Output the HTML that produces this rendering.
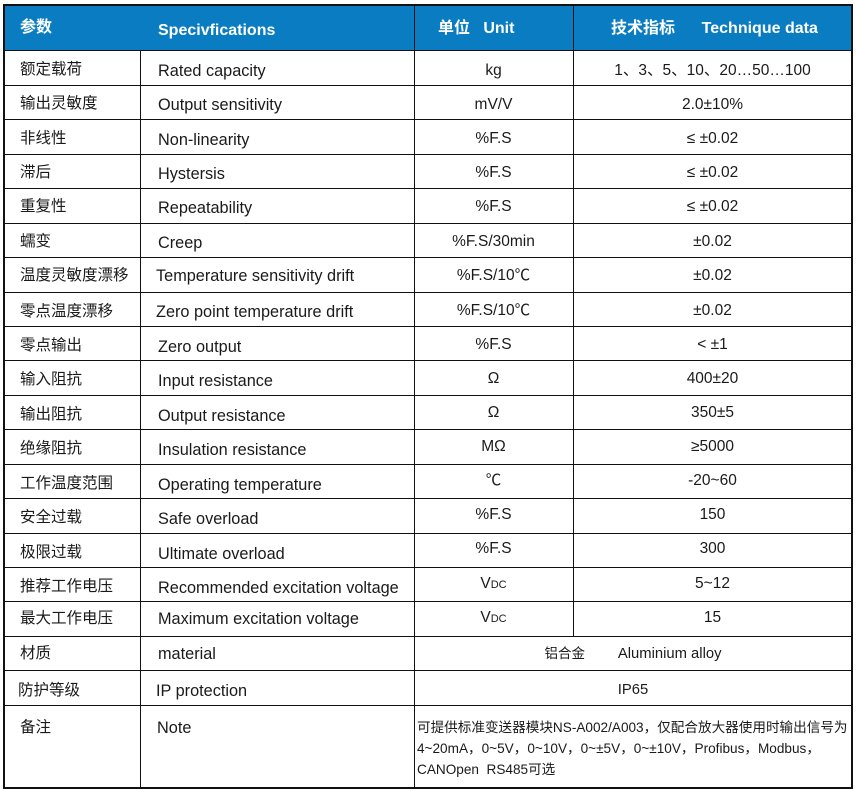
<!DOCTYPE html>
<html><head><meta charset="utf-8"><style>
body{margin:0;width:856px;height:789px;background:#fff;position:relative;overflow:hidden;font-family:"Liberation Sans","Noto Sans CJK SC",sans-serif;color:#1a1a1a}
.h{position:absolute;left:3px;top:4px;width:849px;height:46px;background:#0a7dc2}
.l{position:absolute;background:#111}
.t{position:absolute;font-size:15.5px;white-space:nowrap;line-height:20px}
.e{font-size:16.3px}
.w{color:#fff;font-weight:bold;font-size:16px}
.c3{left:414px;width:159px;text-align:center}
.c4{left:573px;width:279px;text-align:center}
.c34{left:414px;width:438px;text-align:center}
</style></head><body>
<div class="h"></div>
<div class="l" style="left:3px;top:4px;width:850px;height:2px"></div>
<div class="l" style="left:3px;top:787px;width:850px;height:2px"></div>
<div class="l" style="left:3px;top:4px;width:2px;height:785px"></div>
<div class="l" style="left:851px;top:4px;width:2px;height:785px"></div>
<div class="l" style="left:140px;top:50px;width:1px;height:738px"></div>
<div class="l" style="left:414px;top:4px;width:1px;height:784px"></div>
<div class="l" style="left:573px;top:4px;width:1px;height:632px"></div>
<div class="l" style="left:3px;top:50px;width:850px;height:1px"></div>
<div class="l" style="left:3px;top:85px;width:850px;height:1px"></div>
<div class="l" style="left:3px;top:119px;width:850px;height:1px"></div>
<div class="l" style="left:3px;top:154px;width:850px;height:1px"></div>
<div class="l" style="left:3px;top:188px;width:850px;height:1px"></div>
<div class="l" style="left:3px;top:223px;width:850px;height:1px"></div>
<div class="l" style="left:3px;top:257px;width:850px;height:1px"></div>
<div class="l" style="left:3px;top:292px;width:850px;height:1px"></div>
<div class="l" style="left:3px;top:326px;width:850px;height:1px"></div>
<div class="l" style="left:3px;top:360px;width:850px;height:1px"></div>
<div class="l" style="left:3px;top:395px;width:850px;height:1px"></div>
<div class="l" style="left:3px;top:429px;width:850px;height:1px"></div>
<div class="l" style="left:3px;top:464px;width:850px;height:1px"></div>
<div class="l" style="left:3px;top:498px;width:850px;height:1px"></div>
<div class="l" style="left:3px;top:533px;width:850px;height:1px"></div>
<div class="l" style="left:3px;top:567px;width:850px;height:1px"></div>
<div class="l" style="left:3px;top:601px;width:850px;height:1px"></div>
<div class="l" style="left:3px;top:636px;width:850px;height:1px"></div>
<div class="l" style="left:3px;top:670px;width:850px;height:1px"></div>
<div class="l" style="left:3px;top:705px;width:850px;height:1px"></div>
<div class="t w" style="left:20px;top:18px">参数</div>
<div class="t w" style="left:158px;top:21px">Specivfications</div>
<div class="t w" style="left:438px;top:19px">单位&nbsp;&nbsp;&nbsp;Unit</div>
<div class="t w" style="left:611px;top:19px">技术指标&nbsp;&nbsp;&nbsp;&nbsp;&nbsp;&nbsp;Technique data</div>
<div class="t" style="left:20px;top:60px">额定载荷</div><div class="t e" style="left:158px;top:61px">Rated capacity</div><div class="t c3" style="top:61px">kg</div><div class="t c4" style="top:61px">1、3、5、10、20…50…100</div>
<div class="t" style="left:20px;top:94px">输出灵敏度</div><div class="t e" style="left:158px;top:95px">Output sensitivity</div><div class="t c3" style="top:95px">mV/V</div><div class="t c4" style="top:95px">2.0±10%</div>
<div class="t" style="left:20px;top:129px">非线性</div><div class="t e" style="left:158px;top:130px">Non-linearity</div><div class="t c3" style="top:129px">%F.S</div><div class="t c4" style="top:129px">≤ ±0.02</div>
<div class="t" style="left:20px;top:163px">滞后</div><div class="t e" style="left:158px;top:164px">Hystersis</div><div class="t c3" style="top:163px">%F.S</div><div class="t c4" style="top:163px">≤ ±0.02</div>
<div class="t" style="left:20px;top:197px">重复性</div><div class="t e" style="left:158px;top:198px">Repeatability</div><div class="t c3" style="top:197px">%F.S</div><div class="t c4" style="top:197px">≤ ±0.02</div>
<div class="t" style="left:20px;top:232px">蠕变</div><div class="t e" style="left:158px;top:233px">Creep</div><div class="t c3" style="top:232px">%F.S/30min</div><div class="t c4" style="top:232px">±0.02</div>
<div class="t" style="left:20px;top:266px">温度灵敏度漂移</div><div class="t e" style="left:156px;top:266px">Temperature sensitivity drift</div><div class="t c3" style="top:266px">%F.S/10℃</div><div class="t c4" style="top:266px">±0.02</div>
<div class="t" style="left:20px;top:302px">零点温度漂移</div><div class="t e" style="left:156px;top:302px">Zero point temperature drift</div><div class="t c3" style="top:301px">%F.S/10℃</div><div class="t c4" style="top:301px">±0.02</div>
<div class="t" style="left:20px;top:336px">零点输出</div><div class="t e" style="left:158px;top:337px">Zero output</div><div class="t c3" style="top:335px">%F.S</div><div class="t c4" style="top:335px">&lt; ±1</div>
<div class="t" style="left:20px;top:370px">输入阻抗</div><div class="t e" style="left:158px;top:371px">Input resistance</div><div class="t c3" style="top:369px">Ω</div><div class="t c4" style="top:369px">400±20</div>
<div class="t" style="left:20px;top:405px">输出阻抗</div><div class="t e" style="left:158px;top:406px">Output resistance</div><div class="t c3" style="top:403px">Ω</div><div class="t c4" style="top:403px">350±5</div>
<div class="t" style="left:20px;top:439px">绝缘阻抗</div><div class="t e" style="left:158px;top:440px">Insulation resistance</div><div class="t c3" style="top:437px">MΩ</div><div class="t c4" style="top:437px">≥5000</div>
<div class="t" style="left:20px;top:474px">工作温度范围</div><div class="t e" style="left:158px;top:475px">Operating temperature</div><div class="t c3" style="top:471px">℃</div><div class="t c4" style="top:471px">-20~60</div>
<div class="t" style="left:20px;top:508px">安全过载</div><div class="t e" style="left:158px;top:509px">Safe overload</div><div class="t c3" style="top:505px">%F.S</div><div class="t c4" style="top:505px">150</div>
<div class="t" style="left:20px;top:543px">极限过载</div><div class="t e" style="left:158px;top:544px">Ultimate overload</div><div class="t c3" style="top:539px">%F.S</div><div class="t c4" style="top:539px">300</div>
<div class="t" style="left:20px;top:577px">推荐工作电压</div><div class="t e" style="left:158px;top:578px">Recommended excitation voltage</div><div class="t c3" style="top:574px">V<span style="font-size:11px">DC</span></div><div class="t c4" style="top:574px">5~12</div>
<div class="t" style="left:20px;top:609px">最大工作电压</div><div class="t e" style="left:158px;top:609px">Maximum excitation voltage</div><div class="t c3" style="top:608px">V<span style="font-size:11px">DC</span></div><div class="t c4" style="top:608px">15</div>
<div class="t" style="left:20px;top:644px">材质</div><div class="t e" style="left:158px;top:644px">material</div><div class="t c34" style="top:644px;font-size:14.8px"><span style="font-size:13.5px">铝合金</span>&nbsp;&nbsp;&nbsp;&nbsp;&nbsp;&nbsp;&nbsp;&nbsp;Aluminium alloy</div>
<div class="t" style="left:18px;top:681px">防护等级</div><div class="t e" style="left:156px;top:681px">IP protection</div><div class="t c34" style="top:680px;font-size:14.8px">IP65</div>
<div class="t" style="left:20px;top:718px">备注</div><div class="t e" style="left:157px;top:718px">Note</div>
<div class="t" style="left:417px;top:717px;font-size:13.6px;line-height:21px">可提供标准变送器模块NS-A002/A003，仅配合放大器使用时输出信号为<br>4~20mA，0~5V，0~10V，0~±5V，0~±10V，Profibus，Modbus，<br>CANOpen&nbsp;&nbsp;RS485可选</div>
</body></html>
